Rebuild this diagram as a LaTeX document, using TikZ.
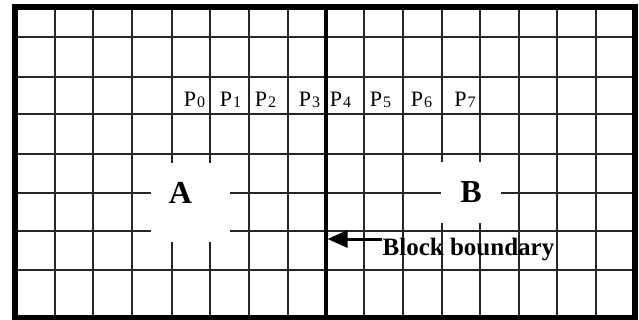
\documentclass[tikz,border=0pt]{standalone}
\usepackage{fontspec}
\setmainfont{Liberation Serif}
\usetikzlibrary{arrows.meta}
\newcommand{\psub}[1]{\kern1pt\raisebox{-1pt}{\fontsize{16}{16}\selectfont #1}}
\begin{document}
\begin{tikzpicture}[x=1pt,y=-1pt,
  gridline/.style={line width=1.4pt,black!85},
  plbl/.style={inner sep=0pt,anchor=base,font=\fontsize{22}{22}\selectfont},
  blocklbl/.style={inner sep=0pt,font=\bfseries\fontsize{32}{32}\selectfont},
  gapbox/.style={fill=white,draw=none}]
\useasboundingbox (0,0) rectangle (639,320);
% grid
\foreach \x in {55,93,132,172,210,249,288,364,403,442,480,519,557,596}
  \draw[gridline] (\x,7) -- (\x,317.5);
\foreach \y in {37,77,114,154,193,231,270}
  \draw[gridline] (15,\y) -- (634.5,\y);
% blank areas around the block letters
\path[gapbox] (151,163) rectangle (230,242);
\path[gapbox] (440.5,162) rectangle (501,223);
% block boundary and frame
\draw[line width=4.5pt] (326,7) -- (326,317.5);
\draw[line width=6pt] (15,7) rectangle (634.5,317.5);
% block letters
\node[blocklbl] (A) at (180.5,192.5) {A};
\node[blocklbl] (B) at (471,192) {B};
% P labels
\node[plbl] (p0) at (194.5,107) {P\psub{0}};
\node[plbl] (p1) at (230.5,107) {P\psub{1}};
\node[plbl] (p2) at (265.5,107) {P\psub{2}};
\node[plbl] (p3) at (309.5,107) {P\psub{3}};
\node[plbl] (p4) at (340.5,107) {P\psub{4}};
\node[plbl] (p5) at (380.5,107) {P\psub{5}};
\node[plbl] (p6) at (421.5,107) {P\psub{6}};
\node[plbl] (p7) at (465,107) {P\psub{7}};
% boundary label and arrow
\node[inner sep=0pt,anchor=base,font=\bfseries\fontsize{25}{25}\selectfont] (bb) at (468.5,255) {Block boundary};
\coordinate (tail) at (382,239);
\coordinate (tip) at (327.5,239);
\draw[line width=3pt,-{Triangle[length=20pt,width=17pt]}] (tail) -- (tip);
\end{tikzpicture}
\end{document}
